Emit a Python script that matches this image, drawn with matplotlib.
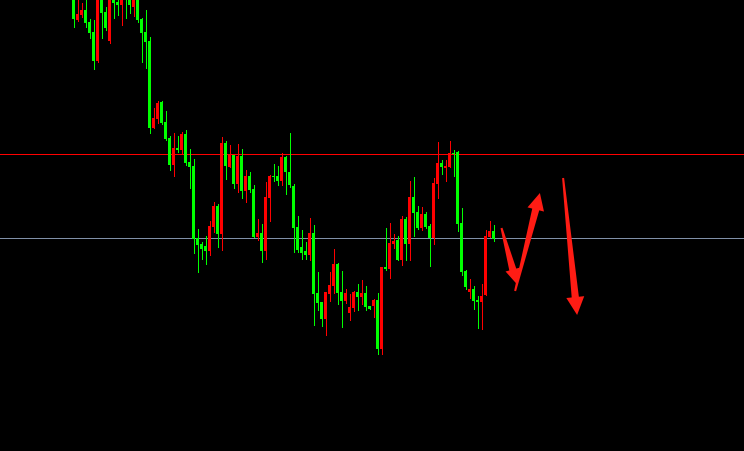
import numpy as np
import matplotlib
matplotlib.use("Agg")
import matplotlib.pyplot as plt
from matplotlib.patches import Polygon

# candle values, in screen units (0 = top edge, larger = lower price)
opens = [-5, 20, 15, 10, 22, 32, 61, -3, 12, 41, -4, 2, 5, -12, -3, 7, -2, 19, 32, 41,
         128, 119, 102, 122, 138, 165, 148, 150, 134, 162, 166, 238, 244, 246, 251, 227, 206, 234, 143, 167,
         155, 184, 156, 191, 176, 189, 237, 233, 251, 198, 176, 176, 181, 157, 172, 186, 227, 247, 251, 255,
         233, 293, 302, 319, 294, 286, 264, 292, 301, 313, 308, 292, 297, 293, 306, 306, 300, 349, 267, 269,
         244, 240, 260, 219, 244, 197, 212, 228, 214, 226, 238, 184, 163, 168, 167, 153, 152, 223, 271, 292,
         289, 300, 302, 295, 237, 231]
closes = [19, 14, 10, 23, 33, 61, -3, 13, 28, -2, 3, 5, -3, -3, 5, -2, 20, 33, 42, 128,
          118, 103, 123, 139, 165, 148, 150, 134, 163, 167, 239, 245, 249, 251, 226, 206, 234, 143, 166, 155,
          184, 156, 191, 176, 190, 237, 233, 251, 197, 176, 177, 181, 157, 172, 185, 228, 250, 253, 255, 233,
          294, 303, 319, 292, 285, 264, 293, 301, 293, 307, 292, 297, 293, 307, 309, 300, 349, 267, 269, 243,
          241, 260, 219, 244, 197, 213, 228, 214, 227, 238, 183, 163, 167, 166, 153, 154, 224, 272, 287, 289,
          301, 302, 296, 236, 231, 239]
highs = [-10, -10, 3, 0, 19, 20, -8, -6, 7, -6, -8, -2, -6, -15, -6, -5, -4, 18, 10, 37,
         108, 101, 101, 111, 136, 133, 136, 132, 130, 149, 159, 229, 242, 236, 221, 202, 204, 137, 141, 145,
         155, 144, 149, 170, 172, 185, 219, 224, 182, 175, 164, 166, 153, 156, 133, 184, 216, 230, 242, 218,
         225, 272, 302, 292, 272, 249, 263, 271, 289, 294, 291, 284, 280, 286, 306, 299, 293, 267, 228, 223,
         234, 236, 216, 217, 181, 177, 206, 207, 212, 224, 178, 142, 160, 160, 141, 150, 151, 208, 270, 279,
         286, 296, 284, 230, 221, 225]
lows = [27, 21, 17, 27, 38, 69, 62, 38, 30, 43, 18, 15, 25, 18, 13, 16, 22, 62, 68, 133,
        128, 123, 124, 140, 170, 176, 152, 153, 165, 188, 253, 272, 259, 264, 255, 232, 247, 250, 179, 167,
        188, 192, 198, 202, 192, 237, 240, 262, 259, 221, 181, 185, 185, 194, 187, 252, 252, 259, 259, 260,
        325, 310, 326, 335, 301, 293, 304, 327, 303, 320, 311, 310, 304, 310, 309, 317, 354, 354, 270, 278,
        248, 260, 265, 260, 260, 236, 229, 230, 228, 266, 244, 198, 174, 181, 167, 176, 231, 275, 289, 298,
        309, 328, 329, 295, 237, 241]

red_level = 154.5
gray_level = 238.5

# hand drawn arrows (tail, tip) in candle index / screen units
arrows = [((107.0, 228), (110.8, 284)),
          ((110.4, 291), (116.6, 193)),
          ((122.4, 178), (125.9, 315))]
head_sizes = [15, 17, 18]  # pixels

opens = np.array(opens, dtype=float)
closes = np.array(closes, dtype=float)
highs = np.array(highs, dtype=float)
lows = np.array(lows, dtype=float)
x = np.arange(len(opens))

px = 72 / 100  # one pixel in points

# a hair over 744x451 so the saved png doesn't get rounded down a row
fig = plt.figure(figsize=(7.4401, 4.5101), dpi=100, facecolor="black")
ax = fig.add_axes([0, 0, 1, 1])
ax.set_facecolor("black")
ax.set_xlim(-73.5 / 4, (744 - 73.5) / 4)
ax.set_ylim(451, 0)
ax.axis("off")

# red candles = price up (close above open), green = price down
up = closes < opens
colors = np.where(up, "#ff0000", "#00ff00")

ax.vlines(x, highs, lows, colors=colors, linewidth=px, zorder=2, antialiased=False)
body_top = np.minimum(opens, closes)
body_h = np.maximum(np.abs(closes - opens), 1.2)
ax.bar(x, body_h, bottom=body_top, width=0.75, color=colors, linewidth=0, zorder=3,
       antialiased=False)

ax.axhline(red_level, color="#ff0000", linewidth=px, zorder=1, antialiased=False)
ax.axhline(gray_level, color="#8090a8", linewidth=px, zorder=1, antialiased=False)


def tapered_arrow(tail, tip, head):
    # build the arrow in pixel space so it isn't squashed by the data aspect
    p0, p1 = ax.transData.transform([tail, tip])
    d = p1 - p0
    u = d / np.hypot(*d)
    n = np.array([-u[1], u[0]])
    base = p1 - u * head
    pts = [p0 + n * 1.0, base + n * 3.6, base + n * head / 2, p1,
           base - n * head / 2, base - n * 3.6, p0 - n * 1.0]
    return ax.transData.inverted().transform(pts)


for (tail, tip), hs in zip(arrows, head_sizes):
    ax.add_patch(Polygon(tapered_arrow(tail, tip, hs), closed=True,
                         facecolor="#ff1c14", edgecolor="none", zorder=4))

fig.savefig("out.png", dpi=100, facecolor="black")
